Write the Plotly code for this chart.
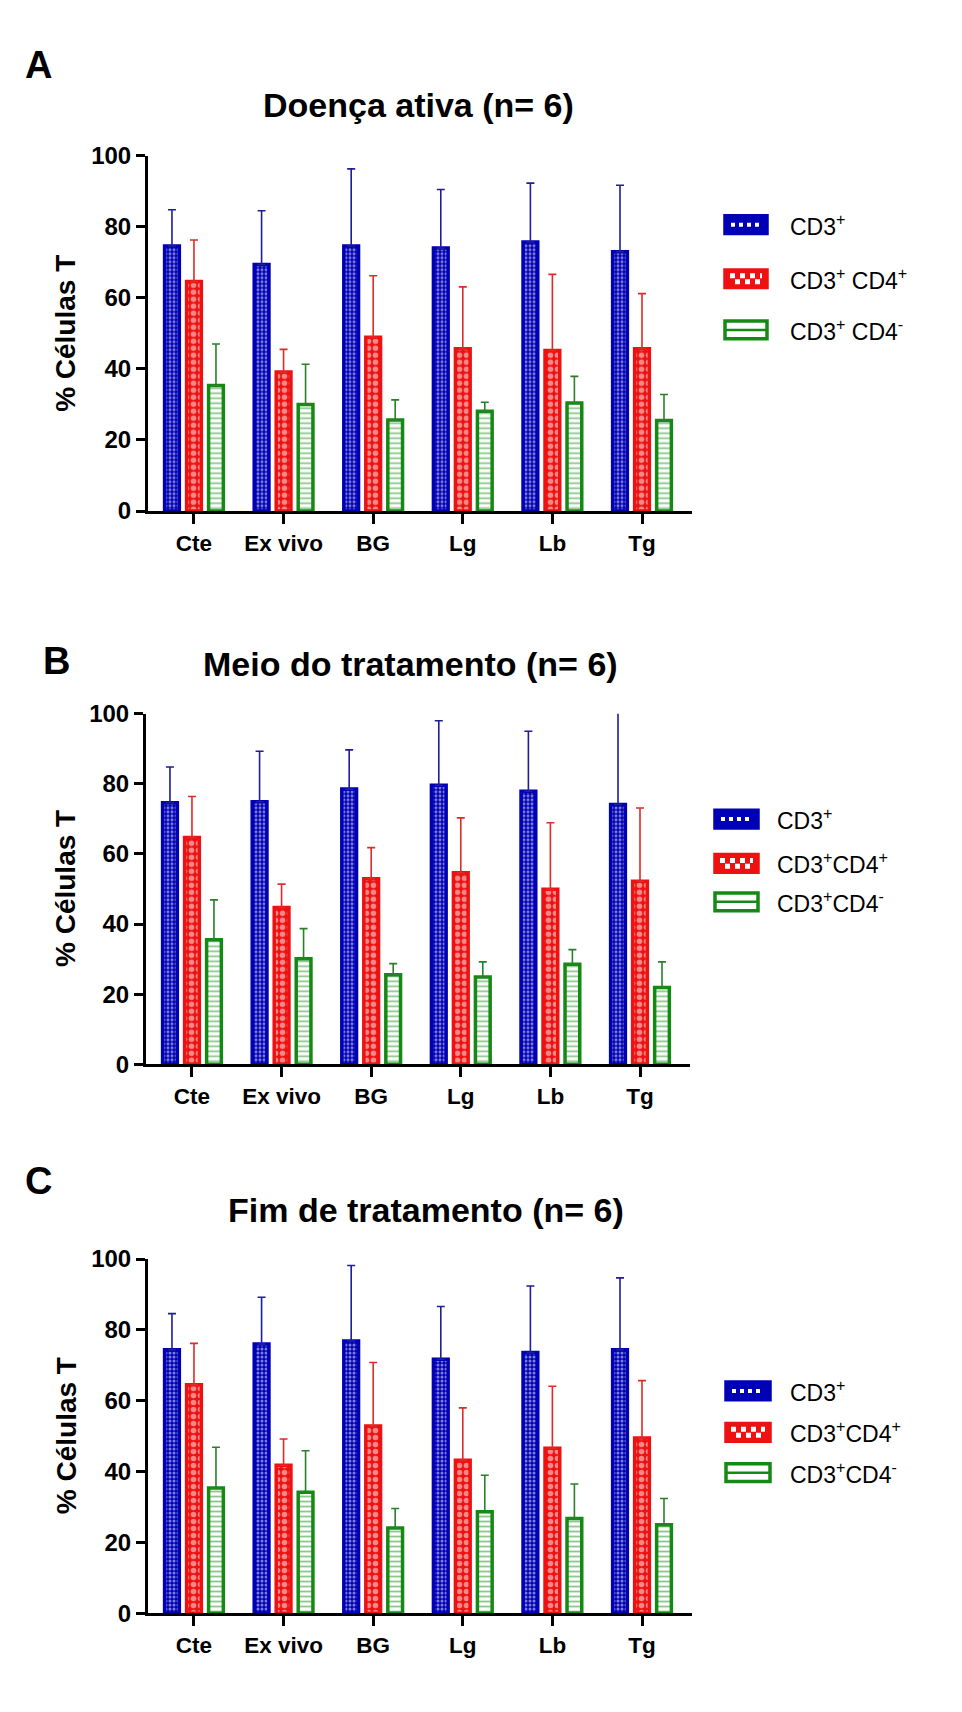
import plotly.graph_objects as go

W, H = 962, 1712

# ---------------- data ----------------
categories = ["Cte", "Ex vivo", "BG", "Lg", "Lb", "Tg"]
y_ticks = [0, 20, 40, 60, 80, 100]

# Panel A - Doença ativa
a_cd3 = [74.6, 69.4, 74.6, 74.0, 75.7, 73.0]
a_cd3_sd = [10.2, 15.1, 21.7, 16.5, 16.6, 18.7]
a_cd4p = [64.6, 39.1, 48.9, 45.7, 45.2, 45.7]
a_cd4p_sd = [11.7, 6.4, 17.3, 17.4, 21.4, 15.5]
a_cd4n = [35.3, 30.0, 25.6, 28.1, 30.4, 25.5]
a_cd4n_sd = [11.7, 11.3, 5.7, 2.5, 7.5, 7.3]

# Panel B - Meio do tratamento
b_cd3 = [74.6, 74.9, 78.5, 79.6, 77.9, 74.1]
b_cd3_sd = [10.2, 14.4, 11.2, 18.4, 17.1, 28.9]
b_cd4p = [64.7, 44.7, 52.9, 54.6, 49.9, 52.2]
b_cd4p_sd = [11.7, 6.7, 8.9, 15.7, 19.0, 20.9]
b_cd4n = [35.5, 30.1, 25.5, 24.9, 28.5, 21.9]
b_cd4n_sd = [11.4, 8.6, 3.2, 4.3, 4.2, 7.3]

# Panel C - Fim de tratamento
c_cd3 = [74.4, 76.0, 76.9, 71.7, 73.6, 74.4]
c_cd3_sd = [10.2, 13.2, 21.3, 14.9, 18.8, 20.3]
c_cd4p = [64.5, 41.8, 52.9, 43.2, 46.6, 49.5]
c_cd4p_sd = [11.7, 7.4, 17.9, 14.8, 17.5, 16.2]
c_cd4n = [35.4, 34.2, 24.1, 28.7, 26.8, 25.0]
c_cd4n_sd = [11.5, 11.7, 5.5, 10.3, 9.7, 7.4]

titles = ["Doença ativa (n= 6)", "Meio do tratamento (n= 6)", "Fim de tratamento (n= 6)"]
letters = ["A", "B", "C"]
legend_labels = [
    ["CD3<sup>+</sup>", "CD3<sup>+</sup> CD4<sup>+</sup>", "CD3<sup>+</sup> CD4<sup>-</sup>"],
    ["CD3<sup>+</sup>", "CD3<sup>+</sup>CD4<sup>+</sup>", "CD3<sup>+</sup>CD4<sup>-</sup>"],
    ["CD3<sup>+</sup>", "CD3<sup>+</sup>CD4<sup>+</sup>", "CD3<sup>+</sup>CD4<sup>-</sup>"],
]
series_names = ["CD3+", "CD3+ CD4+", "CD3+ CD4-"]

panels = [
    [(a_cd3, a_cd3_sd), (a_cd4p, a_cd4p_sd), (a_cd4n, a_cd4n_sd)],
    [(b_cd3, b_cd3_sd), (b_cd4p, b_cd4p_sd), (b_cd4n, b_cd4n_sd)],
    [(c_cd3, c_cd3_sd), (c_cd4p, c_cd4p_sd), (c_cd4n, c_cd4n_sd)],
]

# ---------------- style ----------------
BLUE = "#0000b4"
RED = "#ee1111"
GREEN = "#148a14"
ERR = ["#1e1e96", "#e02a2a", "#2a802a"]
NARROW = "Liberation Sans Narrow, Arial Narrow, Liberation Sans, Arial, sans-serif"
REG = "Liberation Sans, Arial, sans-serif"

markers = [
    dict(color=BLUE, line=dict(color=BLUE, width=3.5),
         pattern=dict(shape=".", fgcolor="white", size=4, solidity=0.45, fillmode="overlay")),
    dict(color=RED, line=dict(color=RED, width=3.5),
         pattern=dict(shape=".", fgcolor="white", size=7, solidity=0.5, fillmode="overlay")),
    dict(color="white", line=dict(color=GREEN, width=3.5),
         pattern=dict(shape="-", fgcolor=GREEN, size=5, solidity=0.35, fillmode="overlay")),
]

# pixel layout (figure pixels)
plot_boxes = [  # x0, x1, ytop(100), ybottom(0)
    (148, 692, 144, 505),
    (146, 690, 711, 1067),
    (148, 692, 1265, 1625),
]
letter_pos = [(38, 52), (56, 657), (38, 1186)]
title_pos = [(418, 92), (410, 660), (426, 1215)]
ytitle_pos = [(66, 325), (66, 889), (66, 1445)]
legend_pos = [  # box x0, box x1, text x, y centers
    (725, 767, 788, [214, 269, 321]),
    (715, 758, 775, [818, 863, 902]),
    (726, 770, 788, [1399, 1441, 1482]),
]


def px(x):
    return x / W


def py(y):
    return 1 - y / H


fig = go.Figure()
layout = dict(
    width=W, height=H, margin=dict(l=0, r=0, t=0, b=0),
    paper_bgcolor="white", plot_bgcolor="white",
    barmode="group", bargap=0.2635, bargroupgap=0.33,
    showlegend=False,
)
annotations = []
shapes = []

for i, series in enumerate(panels):
    sfx = "" if i == 0 else str(i + 1)
    xa, ya = "x" + sfx, "y" + sfx
    for j, (vals, sd) in enumerate(series):
        fig.add_trace(go.Bar(
            x=categories, y=vals, name=series_names[j],
            xaxis=xa, yaxis=ya, marker=markers[j],
            error_y=dict(type="data", symmetric=False, array=sd,
                         arrayminus=[0] * len(sd), color=ERR[j],
                         thickness=1.6, width=4),
            cliponaxis=True,
        ))
    x0, x1, yt, yb = plot_boxes[i]
    layout["xaxis" + sfx] = dict(
        domain=[px(x0), px(x1)], anchor=ya, type="category",
        range=[-0.513, 5.558], showline=True, linewidth=3, linecolor="black",
        ticks="outside", ticklen=10, tickwidth=3, tickcolor="black",
        showgrid=False, zeroline=False,
        tickfont=dict(family=NARROW, size=22.5, color="black", weight="bold"),
    )
    layout["yaxis" + sfx] = dict(
        domain=[py(yb), py(yt)], anchor=xa, range=[0, 100],
        tickvals=y_ticks, showline=True, linewidth=3, linecolor="black",
        ticks="outside", ticklen=9, tickwidth=3, tickcolor="black",
        showgrid=False, zeroline=False,
        tickfont=dict(family=NARROW, size=24, color="black", weight="bold"),
    )
    # panel letter
    lx, ly = letter_pos[i]
    annotations.append(dict(text=letters[i], x=px(lx), y=py(ly), xref="paper", yref="paper",
                            showarrow=False, xanchor="center", yanchor="middle",
                            font=dict(family=REG, size=38, color="black", weight="bold")))
    tx, ty = title_pos[i]
    annotations.append(dict(text=titles[i], x=px(tx), y=py(ty), xref="paper", yref="paper",
                            showarrow=False, xanchor="center", yanchor="middle",
                            font=dict(family=NARROW, size=34, color="black", weight="bold")))
    yx, yy = ytitle_pos[i]
    annotations.append(dict(text="% Células T", x=px(yx), y=py(yy), xref="paper", yref="paper",
                            showarrow=False, xanchor="center", yanchor="middle", textangle=-90,
                            font=dict(family=REG, size=28, color="black", weight="bold")))
    # legend (keys drawn as shapes)
    bx0, bx1, tx_, ycs = legend_pos[i]
    cols = [BLUE, RED, GREEN]
    for j, yc in enumerate(ycs):
        y0, y1 = yc - 9, yc + 9
        fill = cols[j] if j < 2 else "white"
        shapes.append(dict(type="rect", xref="paper", yref="paper",
                           x0=px(bx0), x1=px(bx1), y0=py(y1), y1=py(y0),
                           fillcolor=fill, line=dict(color=cols[j], width=3.5)))
        if j == 0:
            shapes.append(dict(type="line", xref="paper", yref="paper",
                               x0=px(bx0 + 6), x1=px(bx1 - 6), y0=py(yc), y1=py(yc),
                               line=dict(color="white", width=4, dash="dot")))
        elif j == 1:
            shapes.append(dict(type="line", xref="paper", yref="paper",
                               x0=px(bx0 + 5), x1=px(bx1 - 5), y0=py(yc - 3), y1=py(yc - 3),
                               line=dict(color="white", width=5, dash="5px,5px")))
            shapes.append(dict(type="line", xref="paper", yref="paper",
                               x0=px(bx0 + 10), x1=px(bx1 - 5), y0=py(yc + 3), y1=py(yc + 3),
                               line=dict(color="white", width=5, dash="5px,5px")))
        else:
            shapes.append(dict(type="line", xref="paper", yref="paper",
                               x0=px(bx0), x1=px(bx1), y0=py(yc), y1=py(yc),
                               line=dict(color=GREEN, width=2.5)))
        annotations.append(dict(text=legend_labels[i][j], x=px(tx_), y=py(yc), xref="paper",
                                yref="paper", showarrow=False, xanchor="left", yanchor="middle",
                                font=dict(family=REG, size=23, color="black")))

layout["annotations"] = annotations
layout["shapes"] = shapes
fig.update_layout(**layout)
fig.write_html("out.html")
